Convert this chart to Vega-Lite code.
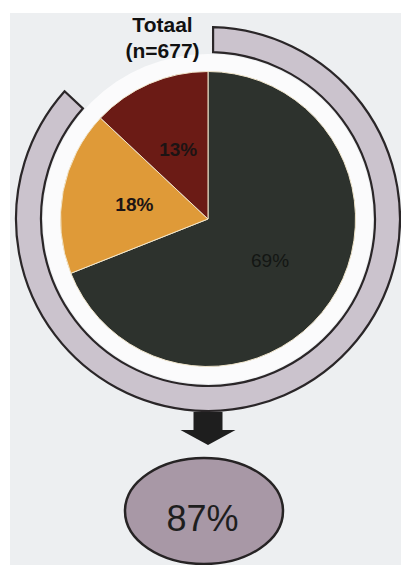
{
  "$schema": "https://vega.github.io/schema/vega-lite/v6.json",
  "background": "#ffffff",
  "padding": {"left": 10, "top": 13, "right": 0, "bottom": 0},
  "datasets": {
    "slices": [
      {"categorie": "Categorie 1", "share": 0.69},
      {"categorie": "Categorie 2", "share": 0.18},
      {"categorie": "Categorie 3", "share": 0.13}
    ],
    "summary": [{"groep": "Totaal", "n": 677, "share": 0.87}]
  },
  "config": {"view": {"stroke": null}, "font": "Liberation Sans"},
  "spacing": 0,
  "bounds": "flush",
  "vconcat": [
    {
      "width": 396,
      "height": 412,
      "view": {"fill": "#edeff1", "stroke": null},
      "data": {"name": "slices"},
      "layer": [
        {
          "transform": [{"aggregate": [{"op": "sum", "field": "share", "as": "total"}]}],
          "mark": {"type": "arc", "radius": 165, "fill": "#fbfbfc"},
          "encoding": {"theta": {"field": "total", "type": "quantitative", "scale": {"domain": [0, 1]}}}
        },
        {
          "data": {"name": "summary"},
          "mark": {"type": "arc", "radius": 192, "radius2": 167, "padAngle": 0.04, "fill": "#cbc3cd", "stroke": "#2a2628", "strokeWidth": 2.2},
          "encoding": {"theta": {"field": "share", "type": "quantitative", "scale": {"domain": [0, 1]}}}
        },
        {
          "mark": {"type": "arc", "radius": 147.5, "stroke": "#f1e6cc", "strokeWidth": 1},
          "encoding": {
            "theta": {"field": "share", "type": "quantitative", "scale": {"domain": [0, 1]}},
            "order": {"field": "share", "sort": "descending"},
            "color": {
              "field": "categorie",
              "type": "nominal",
              "scale": {"domain": ["Categorie 1", "Categorie 2", "Categorie 3"], "range": ["#2d322d", "#df9a38", "#6b1b15"]},
              "legend": null
            }
          }
        },
        {
          "mark": {"type": "text", "radius": 75, "fontSize": 19, "fontWeight": "bold", "fill": "#1c1414"},
          "encoding": {
            "theta": {"field": "share", "type": "quantitative", "stack": true, "scale": {"domain": [0, 1]}},
            "order": {"field": "share", "sort": "descending"},
            "text": {"field": "share", "type": "quantitative", "format": ".0%"},
            "opacity": {"condition": {"test": "datum.categorie === 'Categorie 1'", "value": 0}, "value": 1}
          }
        },
        {
          "mark": {"type": "text", "radius": 75, "fontSize": 19, "fontWeight": "normal", "fill": "#131613"},
          "encoding": {
            "theta": {"field": "share", "type": "quantitative", "stack": true, "scale": {"domain": [0, 1]}},
            "order": {"field": "share", "sort": "descending"},
            "text": {"field": "share", "type": "quantitative", "format": ".0%"},
            "opacity": {"condition": {"test": "datum.categorie === 'Categorie 1'", "value": 1}, "value": 0}
          }
        },
        {
          "data": {"name": "summary"},
          "mark": {"type": "text", "text": ["Totaal", "(n=677)"], "baseline": "top", "align": "center", "fontSize": 21, "fontWeight": "bold", "lineHeight": 26, "dx": -45.5, "dy": -204, "fill": "#111111"},
          "encoding": {}
        }
      ]
    },
    {
      "width": 391,
      "height": 172,
      "view": {"fill": "#edeff1", "stroke": null},
      "data": {"name": "summary"},
      "layer": [
        {
          "mark": {"type": "point", "shape": "M -12 -99 L 17 -99 L 17 -81 L 30 -81 L 2.5 -66 L -25 -81 L -12 -81 Z", "size": 4, "filled": true, "fill": "#1e1e1e", "opacity": 1, "strokeWidth": 0},
          "encoding": {}
        },
        {
          "mark": {"type": "point", "shape": "M -80.5 0 A 79 53 0 1 0 77.5 0 A 79 53 0 1 0 -80.5 0 Z", "size": 4, "filled": true, "fill": "#a898a6", "stroke": "#262324", "strokeWidth": 2.5, "opacity": 1},
          "encoding": {}
        },
        {
          "mark": {"type": "text", "fontSize": 36, "dx": -3, "dy": 9, "baseline": "middle", "align": "center", "fill": "#1e1e1e"},
          "encoding": {"text": {"field": "share", "type": "quantitative", "format": ".0%"}}
        }
      ]
    }
  ]
}
